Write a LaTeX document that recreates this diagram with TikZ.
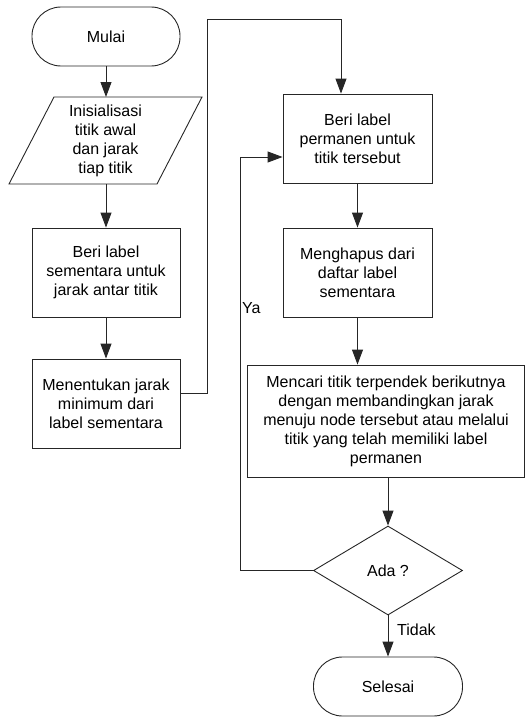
\documentclass[tikz,border=0pt]{standalone}
\usepackage{fontspec}
\setmainfont{Liberation Sans}
\usetikzlibrary{shapes.geometric, arrows.meta}
\begin{document}
\begin{tikzpicture}[x=1pt,y=-1pt,
  every node/.style={font=\fontsize{16}{19}\selectfont},
  ln/.style={draw=black!85, line width=0.9pt},
  arr/.style={ln, -{Triangle[length=15pt,width=11pt]}},
  proc/.style={ln, rectangle, minimum width=148pt, minimum height=89pt, align=center, inner sep=0pt},
  term/.style={ln, rectangle, rounded corners=29pt, minimum width=148pt, minimum height=59pt, inner sep=0pt},
  decision/.style={ln, diamond, minimum width=149pt, minimum height=89pt, inner sep=0pt}]
\useasboundingbox (0,0) rectangle (526,717);

% left column
\node[term] (mulai) at (106,36.5) {Mulai};
\draw[ln] (54,97) -- (202,97) -- (157,184) -- (9,184) -- cycle;
\node[align=center] (para) at (105.5,140.5) {Inisialisasi\\titik awal\\dan jarak\\tiap titik};
\coordinate (paraT) at (106,97);
\coordinate (paraB) at (106,184);
\node[proc] (boxA) at (106,272.5) {Beri label\\sementara untuk\\jarak antar titik};
\node[proc] (boxB) at (106,403.5) {Menentukan jarak\\minimum dari\\label sementara};

% right column
\node[proc, minimum width=149pt] (boxC) at (357.5,138.5) {Beri label\\permanen untuk\\titik tersebut};
\node[proc, minimum width=149pt] (boxD) at (357.5,272.5) {Menghapus dari\\daftar label\\sementara};
\node[proc, minimum width=277pt, minimum height=112pt] (boxE) at (386,421) {Mencari titik terpendek berikutnya\\dengan membandingkan jarak\\menuju node tersebut atau melalui\\titik yang telah memiliki label\\permanen};
\node[decision] (dia) at (388,570.5) {Ada ?};
\node[term, minimum width=149pt] (selesai) at (388,686.5) {Selesai};

% connectors
\draw[arr] (mulai.south) -- (paraT);
\draw[arr] (paraB) -- (boxA.north);
\draw[arr] (boxA.south) -- (boxB.north);
\coordinate (j1) at (207,393);
\coordinate (j2) at (207,19);
\coordinate (j3) at (341,19);
\draw[arr] (boxB.east |- j1) -- (j1) -- (j2) -- (j3) -- (j3 |- boxC.north);
\draw[arr] (boxC.south) -- (boxD.north);
\draw[arr] (boxD.south) -- (boxD.south |- boxE.north);
\draw[arr] (dia.north |- boxE.south) -- (dia.north);
\coordinate (y1) at (240,570.5);
\coordinate (y2) at (240,157);
\draw[arr] (dia.west) -- (y1) -- (y2) -- (boxC.west |- y2);
\draw[arr] (dia.south) -- (selesai.north);
\node[anchor=west, inner sep=0pt] (ya) at (242,308) {Ya};
\node[anchor=west, inner sep=0pt] (tidak) at (397,630) {Tidak};
\end{tikzpicture}
\end{document}
